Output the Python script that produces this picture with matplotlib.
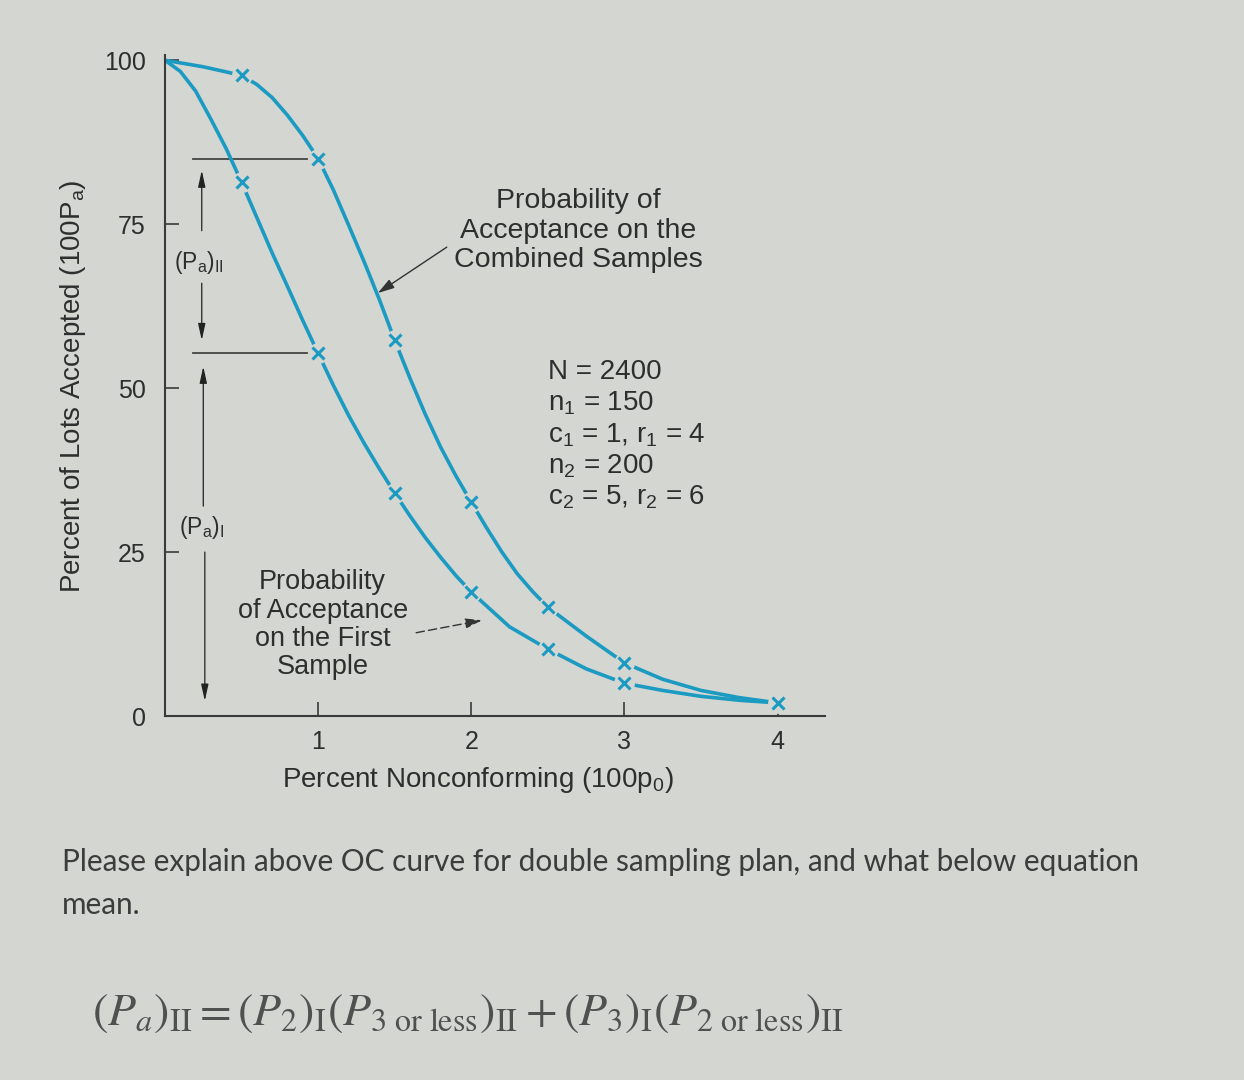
import matplotlib.pyplot as plt

plt.rcParams['font.family'] = ['Liberation Sans', 'DejaVu Sans']

# percent nonconforming (100p0) vs percent of lots accepted
p_comb = [0, 0.25, 0.5, 0.6, 0.7, 0.8, 0.9, 1.0, 1.1, 1.2, 1.3, 1.4, 1.5, 1.6, 1.7, 1.8,
          1.9, 2.0, 2.1, 2.2, 2.3, 2.4, 2.5, 2.75, 3.0, 3.25, 3.5, 3.75, 4.0]
pa_comb = [100, 99.0, 97.7, 96.3, 94.3, 91.6, 88.5, 85.0, 80.2, 74.8, 69.3, 63.5, 57.3, 51.5,
           46.0, 41.0, 36.6, 32.6, 28.7, 25.0, 21.7, 19.0, 16.6, 12.2, 8.1, 5.6, 3.9, 2.8, 2.0]

p_first = [0, 0.1, 0.2, 0.3, 0.4, 0.5, 0.6, 0.7, 0.8, 0.9, 1.0, 1.1, 1.2, 1.3, 1.4, 1.5,
           1.6, 1.7, 1.8, 1.9, 2.0, 2.25, 2.5, 2.75, 3.0, 3.25, 3.5, 3.75, 4.0]
pa_first = [100, 98.3, 95.3, 91.0, 86.5, 81.4, 76.0, 70.6, 65.5, 60.3, 55.3, 50.4, 45.8, 41.6,
            37.7, 34.0, 30.5, 27.2, 24.2, 21.4, 18.9, 13.6, 10.2, 7.2, 5.0, 3.9, 3.0, 2.4, 2.0]

# the x marks
mark_comb_p = [0.5, 1.0, 1.5, 2.0, 2.5, 3.0, 4.0]
mark_comb = [97.7, 85.0, 57.3, 32.6, 16.6, 8.1, 2.0]
mark_first_p = [0.5, 1.0, 1.5, 2.0, 2.5, 3.0]
mark_first = [81.4, 55.3, 34.0, 18.9, 10.2, 5.0]

xticks = [1, 2, 3, 4]
yticks = [0, 25, 50, 75, 100]

plan_lines = [r'N = 2400',
              r'n$_\mathregular{1}$ = 150',
              r'c$_\mathregular{1}$ = 1, r$_\mathregular{1}$ = 4',
              r'n$_\mathregular{2}$ = 200',
              r'c$_\mathregular{2}$ = 5, r$_\mathregular{2}$ = 6']

bg = '#d4d6d2'
teal = '#1b9ac2'
ink = '#2e2e2e'

W, H = 1244, 1080
fig = plt.figure(figsize=(W / 100, H / 100), dpi=100, facecolor=bg)
ax = fig.add_axes([165 / W, 1 - 716 / H, 660 / W, 661 / H])
ax.set_facecolor(bg)
ax.set_xlim(0, 4.31)
ax.set_ylim(0, 100.8)

for s in ['top', 'right']:
    ax.spines[s].set_visible(False)
for s in ['left', 'bottom']:
    ax.spines[s].set_color('#3a3a3a')
    ax.spines[s].set_linewidth(1.5)

ax.set_xticks(xticks)
ax.set_yticks(yticks)
ax.tick_params(direction='in', length=10, width=1.2, colors='#3a3a3a', labelsize=18, labelcolor=ink)
ax.tick_params(axis='x', pad=10)
ax.tick_params(axis='y', pad=14)

# curves
ax.plot(p_comb, pa_comb, color=teal, lw=2.6, solid_capstyle='round', zorder=2)
ax.plot(p_first, pa_first, color=teal, lw=2.6, solid_capstyle='round', zorder=2)
for mp, mv in [(mark_comb_p, mark_comb), (mark_first_p, mark_first)]:
    ax.plot(mp, mv, 'o', ms=15, mfc=bg, mec='none', zorder=3)
    ax.plot(mp, mv, 'x', ms=9, mew=2.2, color=teal, zorder=4)

# guide lines at 1 percent nonconforming
ax.plot([0.18, 0.93], [mark_comb[1], mark_comb[1]], color='#444', lw=1.3, zorder=1)
ax.plot([0.18, 0.93], [mark_first[1], mark_first[1]], color='#444', lw=1.3, zorder=1)

arr = dict(arrowstyle='-|>,head_length=1.0,head_width=0.22', color='#222', lw=0.9,
           shrinkA=0, shrinkB=0)
ax.annotate('', xy=(0.24, mark_comb[1] - 1.8), xytext=(0.24, 74), arrowprops=arr)
ax.annotate('', xy=(0.24, mark_first[1] + 2), xytext=(0.24, 66), arrowprops=arr)
ax.annotate('', xy=(0.25, mark_first[1] - 2), xytext=(0.25, 32), arrowprops=arr)
ax.annotate('', xy=(0.26, 2.3), xytext=(0.26, 25), arrowprops=arr)

ax.text(0.22, 69.2, r'(P$_\mathregular{a}$)$_\mathregular{II}$', ha='center', va='center',
        fontsize=16.5, color=ink)
ax.text(0.24, 28.8, r'(P$_\mathregular{a}$)$_\mathregular{I}$', ha='center', va='center',
        fontsize=16.5, color=ink)

# annotations
ax.text(2.7, 74, 'Probability of\nAcceptance on the\nCombined Samples', ha='center',
        va='center', fontsize=20.5, color=ink, linespacing=1.18)
ax.annotate('', xy=(1.39, 64.5), xytext=(1.84, 71.5),
            arrowprops=dict(arrowstyle='-|>,head_length=1.0,head_width=0.3', color='#333',
                            lw=1.0, shrinkA=0, shrinkB=0))

ax.text(1.03, 13.9, 'Probability\nof Acceptance\non the First\nSample', ha='center',
        va='center', fontsize=19.5, color=ink, linespacing=1.12)
ax.annotate('', xy=(2.07, 14.6), xytext=(1.64, 12.7),
            arrowprops=dict(arrowstyle='-|>,head_length=1.0,head_width=0.3', color='#333',
                            lw=1.0, ls=(0, (6, 3)), shrinkA=0, shrinkB=0))

for i, line in enumerate(plan_lines):
    ax.text(2.5, 52.4 - i * 4.76, line, ha='left', va='center', fontsize=20, color=ink)

# axis titles
fig.text(73 / W, 1 - 386 / H, r'Percent of Lots Accepted (100P$_\mathregular{a}$)', rotation=90,
         ha='center', va='center', fontsize=20, color=ink)
fig.text(478 / W, 1 - 780 / H, r'Percent Nonconforming (100p$_\mathregular{0}$)',
         ha='center', va='center', fontsize=20, color=ink)

# question text below the chart
fig.text(62 / W, 1 - 862 / H,
         'Please explain above OC curve for double sampling plan, and what below equation',
         ha='left', va='center', fontsize=21.4, color='#3c3c3c', family=['Lato', 'DejaVu Sans'])
fig.text(62 / W, 1 - 905 / H, 'mean.', ha='left', va='center', fontsize=21.4, color='#3c3c3c',
         family=['Lato', 'DejaVu Sans'])

eq = (r'$(P_a)_{\mathrm{II}} = (P_2)_{\mathrm{I}}(P_{3\ \mathrm{or\ less}})_{\mathrm{II}}'
      r' + (P_3)_{\mathrm{I}}(P_{2\ \mathrm{or\ less}})_{\mathrm{II}}$')
fig.text(92 / W, 1 - 1013 / H, eq, ha='left', va='center', fontsize=33, color='#505050',
         math_fontfamily='stix')

fig.savefig('out.png', dpi=100, facecolor=bg)
